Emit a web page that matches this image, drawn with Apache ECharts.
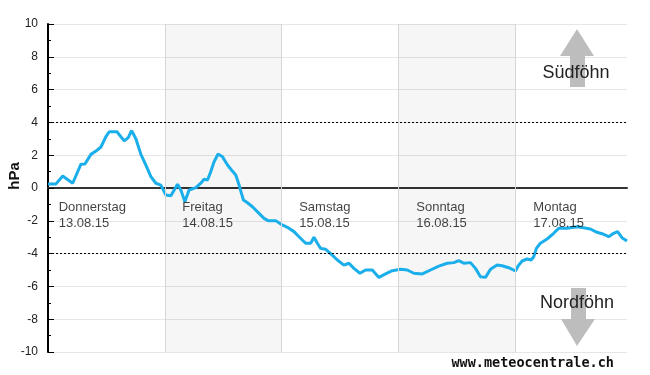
<!DOCTYPE html>
<html>
<head>
<meta charset="utf-8">
<script src="https://cdn.jsdelivr.net/npm/echarts@6/dist/echarts.min.js"></script>
<style>html,body{margin:0;padding:0;background:#fff}#c{width:650px;height:375px}</style>
</head>
<body>
<div id="c"></div>
<script>
// hours since Thursday 13.08.15 00:00
const hours = [0,1.64,3.02,5.07,6.77,7.59,8.82,9.85,10.87,11.9,12.58,14.16,15.65,16.48,17.17,18.05,19.08,20.11,21.13,22.16,23.18,24.21,25.24,26.61,27.29,28.11,28.99,30.37,31.39,32.07,32.77,33.44,34.12,34.94,35.84,36.87,37.69,38.57,39.25,39.74,40.15,40.97,42.0,43.35,44.38,45.2,46.78,47.8,49.18,50.53,51.56,52.93,53.96,54.64,55.33,56.01,57.04,58.06,59.44,60.79,61.82,62.84,64.08,65.24,66.62,67.97,69.35,70.72,72.42,73.8,75.15,76.88,78.58,80.28,82.01,83.36,84.39,85.41,86.79,87.81,88.84,89.86,90.89,92.26,93.29,94.65,96.02,96.7,97.39,98.42,99.24,99.78,100.33,101.15,102.52,103.88,104.9,106.63,108.68,110.04,111.41,112.78,114.14,115.17,116.19,117.01,117.91,118.94];
// pressure difference in hPa
const values = [0.24,0.25,0.73,0.29,1.45,1.46,2.05,2.25,2.5,3.13,3.43,3.43,2.87,3.07,3.5,3.0,2.05,1.4,0.69,0.29,0.18,-0.43,-0.47,0.23,-0.12,-0.83,-0.12,0.02,0.29,0.53,0.49,1.0,1.6,2.07,1.91,1.4,1.1,0.79,0.18,-0.33,-0.73,-0.9,-1.14,-1.55,-1.85,-1.99,-1.99,-2.2,-2.4,-2.66,-2.97,-3.37,-3.37,-3.0,-3.37,-3.68,-3.74,-4.0,-4.39,-4.7,-4.59,-4.9,-5.2,-5.0,-5.0,-5.45,-5.24,-5.04,-4.96,-5.0,-5.2,-5.24,-5.0,-4.76,-4.59,-4.55,-4.43,-4.59,-4.55,-4.9,-5.41,-5.45,-4.96,-4.7,-4.74,-4.86,-5.06,-4.7,-4.45,-4.33,-4.39,-4.19,-3.68,-3.37,-3.11,-2.76,-2.46,-2.46,-2.36,-2.42,-2.5,-2.7,-2.82,-2.97,-2.76,-2.66,-3.03,-3.23];
const dayNames = ['Donnerstag','Freitag','Samstag','Sonntag','Montag'];
const dayDates = ['13.08.15','14.08.15','15.08.15','16.08.15','17.08.15'];
const dayLabelHours = [2.3,27.7,51.7,75.75,99.8];
const dayLabelValue = -0.75;
const dayBoundaries = [24,48,72,96];
const shadedDays = [[24,48],[72,96]];
const foehnThresholds = [4,-4];
const yTicks = {min:-10,max:10,interval:2};
const xRange = {min:0,max:118.94};

const chart = echarts.init(document.getElementById('c'), null, {renderer:'canvas'});
const lineData = hours.map((h,i)=>[h, values[i]]);
const arrowColor = '#bdbdbd';
chart.setOption({
  animation:false,
  grid:{left:48,right:23,top:24,bottom:23},
  xAxis:{
    type:'value', min:xRange.min, max:xRange.max, interval:24,
    axisLine:{onZero:true, lineStyle:{color:'#333',width:2}},
    axisTick:{show:true,length:5,customValues:dayBoundaries,lineStyle:{color:'#333',width:1}},
    axisLabel:{show:false},
    splitLine:{show:false}
  },
  yAxis:{
    type:'value', min:yTicks.min, max:yTicks.max, interval:yTicks.interval,
    axisLine:{show:true, lineStyle:{color:'#000',width:2}},
    axisTick:{show:true, inside:true, length:6, lineStyle:{color:'#000',width:1}},
    minorTick:{show:true, splitNumber:2, length:3, lineStyle:{color:'#000',width:1}},
    axisLabel:{color:'#222', fontFamily:'Liberation Sans', fontSize:12, margin:10},
    splitLine:{show:true, lineStyle:{color:'#e6e6e6',width:1}}
  },
  series:[
    {
      type:'line', data:lineData, z:1, silent:true, showSymbol:false,
      lineStyle:{opacity:0},
      markArea:{silent:true, itemStyle:{color:'rgba(0,0,0,0.035)'},
        data: shadedDays.map(d=>[{xAxis:d[0]},{xAxis:d[1]}])},
      markLine:{silent:true, symbol:'none', label:{show:false},
        data: dayBoundaries.map(b=>({xAxis:b, lineStyle:{color:'#d6d6d6',width:1,type:'solid'}}))
          .concat(foehnThresholds.map(t=>({yAxis:t, lineStyle:{color:'#000',width:1,type:[2,2]}})))}
    },
    {
      type:'line', data:lineData, z:3, showSymbol:false, silent:true,
      lineStyle:{color:'#1aaeea', width:3}
    },
    {
      type:'scatter', z:4, silent:true, symbolSize:1, itemStyle:{color:'transparent'},
      data: dayLabelHours.map((h,i)=>({value:[h, dayLabelValue], name:dayNames[i]+'\n'+dayDates[i]})),
      label:{show:true, position:[0,0], align:'left', verticalAlign:'top',
        formatter:p=>p.name, color:'#111', fontFamily:'Liberation Sans', fontSize:13, lineHeight:16}
    }
  ],
  graphic:[
    {type:'text', x:15, y:176, rotation:Math.PI/2, style:{text:'hPa', font:'bold 15px "Liberation Sans"', fill:'#111', textAlign:'center', textVerticalAlign:'middle'}},
    {type:'polygon', z:10, shape:{points:[[577,29],[594,56],[560,56]]}, style:{fill:arrowColor}},
    {type:'rect', z:10, shape:{x:570,y:56,width:15,height:31}, style:{fill:arrowColor}},
    {type:'text', z:11, x:576, y:73, style:{text:'Südföhn', font:'18px "Liberation Sans"', fill:'#222', textAlign:'center', textVerticalAlign:'middle'}},
    {type:'rect', z:10, shape:{x:571,y:288,width:15,height:31}, style:{fill:arrowColor}},
    {type:'polygon', z:10, shape:{points:[[561,319],[595,319],[577,346]]}, style:{fill:arrowColor}},
    {type:'text', z:11, x:577, y:303, style:{text:'Nordföhn', font:'18px "Liberation Sans"', fill:'#222', textAlign:'center', textVerticalAlign:'middle'}},
    {type:'text', z:11, x:614, y:363, style:{text:'www.meteocentrale.ch', font:'bold 13.5px "DejaVu Sans Mono"', fill:'#111', textAlign:'right', textVerticalAlign:'middle'}}
  ]
});
</script>
</body>
</html>
